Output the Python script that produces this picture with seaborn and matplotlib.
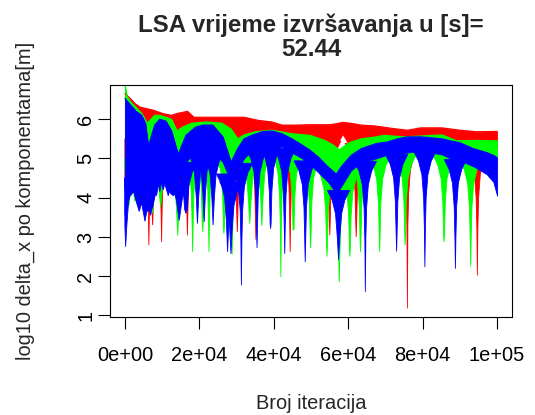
import numpy as np
import matplotlib
matplotlib.use("Agg")
import matplotlib.pyplot as plt
import seaborn as sns

# values: iteration -> log10 delta_x
# each series is a dense band (lo..hi) plus deep dips
red_x = [0, 1400, 2700, 4000, 5800, 7600, 10300, 12500, 14200, 16800,
         18500, 24000, 32000, 35900, 39500, 42200, 45800, 49700, 55000, 56500,
         58500, 60500, 63500, 67000, 72300, 75900, 79500, 85200, 90000, 94500,
         100000]
red_hi = [6.65, 6.53, 6.40, 6.31, 6.27, 6.23, 6.14, 6.10, 6.15, 6.20,
          6.05, 6.05, 6.05, 5.97, 5.93, 5.85, 5.85, 5.86, 5.86, 5.88,
          5.92, 5.90, 5.85, 5.83, 5.76, 5.72, 5.78, 5.78, 5.72, 5.68,
          5.69]
red_lo = [5.5, 5.6, 5.6, 5.6, 5.6, 5.6, 5.6, 5.6, 5.6, 5.6,
          5.6, 5.6, 5.5, 5.5, 5.5, 5.5, 5.5, 5.5, 5.45, 5.3,
          5.62, 5.3, 5.45, 5.45, 5.4, 5.3, 5.4, 5.4, 5.3, 5.2,
          5.3]
red_dip_x = [0, 6450, 7450, 9860, 16800, 30200, 35200, 44400, 55050, 62150, 75900, 94700]
red_dip_y = [4.2, 2.79, 3.3, 2.87, 3.04, 3.13, 2.93, 2.62, 3.04, 3.0, 1.18, 2.02]

green_x = [0, 500, 1500, 3000, 4500, 6000, 8000, 9400, 11000, 12500,
           14000, 15500, 18000, 22000, 26000, 28500, 30300, 32000, 35000, 39500,
           44900, 49700, 53700, 55800, 57600, 59400, 60800, 63500, 67500, 69600,
           75000, 85200, 89100, 93600, 100000]
green_hi = [6.87, 6.60, 6.44, 6.30, 6.15, 5.90, 6.10, 6.10, 6.05, 6.00,
            5.70, 5.80, 5.90, 5.93, 5.90, 5.75, 5.50, 5.60, 5.68, 5.72,
            5.63, 5.59, 5.46, 5.35, 5.22, 5.35, 5.42, 5.50, 5.55, 5.59,
            5.55, 5.60, 5.45, 5.46, 5.45]
green_lo = [5.0, 5.0, 5.0, 5.0, 5.0, 4.8, 5.2, 5.3, 5.3, 5.1,
            4.9, 5.1, 5.3, 5.4, 5.3, 5.1, 4.7, 5.0, 5.2, 5.3,
            5.2, 5.1, 4.9, 4.6, 4.4, 4.6, 4.8, 5.0, 5.05, 5.1,
            5.1, 5.1, 5.0, 4.95, 4.95]
green_dip_x = [1070, 2700, 7400, 9600, 14200, 18200, 20900, 22600, 26600, 28800,
               33550, 36800, 41900, 45300, 49900, 54300, 57600, 60450, 63300, 68450,
               75300, 85750, 92900]
green_dip_y = [3.8, 3.9, 3.6, 3.75, 3.04, 2.62, 3.13, 2.62, 3.08, 2.55,
               3.34, 3.28, 1.98, 3.17, 2.72, 2.5, 1.85, 2.5, 2.62, 2.62,
               2.79, 2.87, 2.25]

blue_x = [0, 1500, 3000, 4500, 5500, 6300, 7200, 8000, 9400, 11000,
          12500, 14300, 16400, 19000, 21000, 23600, 26300, 28500, 30300, 32000,
          34100, 36800, 39500, 42200, 44900, 47600, 49700, 51900, 54600, 56800,
          58200, 60800, 63500, 67500, 70500, 73200, 75900, 79500, 85200, 87400,
          90000, 93600, 97200, 99000, 100000]
blue_hi = [6.53, 6.36, 6.20, 6.10, 5.90, 5.30, 5.60, 5.85, 6.00, 5.95,
           5.70, 5.10, 5.59, 5.80, 5.85, 5.85, 5.55, 4.90, 5.25, 5.50,
           5.59, 5.68, 5.70, 5.63, 5.50, 5.34, 5.21, 5.04, 4.78, 4.60,
           4.80, 5.08, 5.25, 5.38, 5.42, 5.50, 5.55, 5.55, 5.50, 5.45,
           5.40, 5.25, 5.15, 5.08, 5.02]
blue_lo = [4.5, 4.5, 4.5, 4.5, 4.4, 4.3, 4.6, 5.0, 5.2, 5.0,
           4.8, 4.5, 4.9, 5.2, 5.3, 5.2, 4.9, 4.4, 4.7, 5.0,
           5.2, 5.3, 5.35, 5.3, 5.15, 5.0, 4.85, 4.65, 4.4, 4.1,
           4.3, 4.7, 4.9, 5.0, 5.1, 5.1, 5.15, 5.2, 5.1, 5.0,
           4.95, 4.8, 4.6, 4.4, 4.05]
blue_dip_x = [0, 200, 1500, 2400, 3850, 4650, 5400, 6100, 6900, 7450,
              8500, 9400, 10300, 11650, 13000, 14600, 16400, 19500, 21300, 23700,
              27600, 28500, 31300, 35500, 39150, 42950, 48450, 57400, 64600, 73000,
              80600, 88800]
blue_dip_y = [3.55, 2.75, 4.05, 4.2, 3.65, 3.9, 3.4, 3.65, 3.55, 3.75,
              4.05, 4.15, 4.2, 4.05, 4.05, 3.42, 3.6, 3.34, 3.38, 3.3,
              2.62, 2.57, 1.77, 2.72, 3.21, 2.57, 2.36, 2.42, 1.6, 2.63,
              2.23, 2.19]

x_ticks = [0, 20000, 40000, 60000, 80000, 100000]
x_tick_labels = ["0e+00", "2e+04", "4e+04", "6e+04", "8e+04", "1e+05"]
y_ticks = [1, 2, 3, 4, 5, 6]

title_line1 = "LSA vrijeme izvršavanja u [s]="
title_line2 = "52.44"

# shape of a dip below the band: depth under band edge -> half width (iterations)
TAPER_DEPTH = np.array([0.0, 0.25, 0.6, 1.2, 2.0])
TAPER_HALF = np.array([3000, 1700, 800, 330, 130])


def draw_series(ax, x, lo, hi, dip_x, dip_y, color):
    ax.fill_between(x, lo, hi, color=color, lw=0.6)
    sns.lineplot(x=x, y=hi, color=color, lw=0.8, ax=ax)
    base = np.interp(dip_x, x, lo)
    for xd, yd, y0 in zip(dip_x, dip_y, base):
        keep = y0 - TAPER_DEPTH > yd
        d = TAPER_DEPTH[keep]
        w = TAPER_HALF[keep]
        xs = np.concatenate([xd - w, [xd], (xd + w)[::-1]])
        ys = np.concatenate([y0 - d, [yd], (y0 - d)[::-1]])
        ax.fill(np.clip(xs, 0, 100000), ys, color=color, lw=0.6)


def main():
    sns.set_style("ticks")
    plt.rcParams["font.family"] = ["Liberation Sans", "DejaVu Sans"]

    fig = plt.figure(figsize=(5.35, 4.15), dpi=100)
    ax = fig.add_axes([0.2056, 0.2361, 0.7514, 0.5590])

    draw_series(ax, red_x, red_lo, red_hi, red_dip_x, red_dip_y, "#ff0000")
    draw_series(ax, green_x, green_lo, green_hi, green_dip_x, green_dip_y, "#00ff00")
    draw_series(ax, blue_x, blue_lo, blue_hi, blue_dip_x, blue_dip_y, "#0000ff")

    ax.set_xlim(-4000, 104000)
    ax.set_ylim(0.96, 6.87)
    ax.set_xticks(x_ticks, x_tick_labels)
    ax.set_yticks(y_ticks)
    ax.tick_params(direction="out", length=8.6, width=0.8, color="black",
                   labelcolor="black", labelsize=14.4)
    ax.tick_params(axis="x", pad=12)
    ax.tick_params(axis="y", pad=2)
    for t in ax.get_yticklabels():
        t.set_rotation(90)
        t.set_va("center")
    for s in ax.spines.values():
        s.set_color("black")
        s.set_linewidth(0.8)

    ax.set_xlabel("Broj iteracija", fontsize=14.4, labelpad=21)
    ax.set_ylabel("log10 delta_x po komponentama[m]", fontsize=14.4, labelpad=30)

    cx = 0.5813
    fig.text(cx, 0.9229, title_line1, ha="center", va="baseline",
             fontsize=17.3, fontweight="bold")
    fig.text(cx, 0.8639, title_line2, ha="center", va="baseline",
             fontsize=17.3, fontweight="bold")

    fig.savefig("out.png", dpi=100)
    plt.close(fig)


if __name__ == "__main__":
    main()
